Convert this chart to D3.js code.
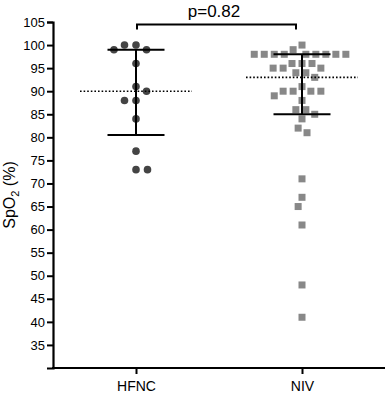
<!DOCTYPE html>
<html>
<head>
<meta charset="utf-8">
<script src="https://cdn.jsdelivr.net/npm/d3@7"></script>
<style>
  body { margin: 0; background: #fff; }
  text { font-family: "Liberation Sans", Arial, sans-serif; }
</style>
</head>
<body>
<div id="root"></div>
<script>
// groups on the x axis
var groups = ["HFNC", "NIV"];

// SpO2 readings per patient
var hfncValues = [100, 100, 99, 99, 96, 91, 90, 88, 88, 84, 77, 73, 73];
var nivValues = [100, 99, 98, 98, 98, 98, 98, 98, 98, 98, 98, 96, 96, 96, 95, 95, 95,
    94, 94, 93, 91, 90, 90, 90, 90, 89, 88, 86, 86, 85, 84, 82, 81, 71, 67, 65, 61, 48, 41];

// centre line and whiskers for each group
var centreValues = [90, 93];
var lowValues = [80.5, 85];
var highValues = [99, 98];

var yTicks = [35, 40, 45, 50, 55, 60, 65, 70, 75, 80, 85, 90, 95, 100, 105];
var pLabel = "p=0.82";

var svgWidth = 387,
    svgHeight = 395,
    margin = { top: 22, right: 2, bottom: 27, left: 53 };

var svg = d3.select("#root")
    .append("svg")
    .attr("width", svgWidth)
    .attr("height", svgHeight);

var x = d3.scalePoint()
    .domain(groups)
    .range([margin.left, svgWidth - margin.right])
    .padding(0.5);

var y = d3.scaleLinear()
    .domain([30, 105])
    .range([svgHeight - margin.bottom, margin.top]);

// simple beeswarm: push each point sideways until it does not touch earlier ones
function dodge(values, gap) {
    var placed = [];
    var left = 0, right = 0;
    var sorted = values.slice().sort(function (a, b) { return b - a; });
    return sorted.map(function (v) {
        var py = y(v);
        var blocked = [];
        placed.forEach(function (p) {
            var dy = Math.abs(p.y - py);
            if (dy < gap) {
                var h = Math.sqrt(gap * gap - dy * dy);
                blocked.push([p.dx - h, p.dx + h]);
            }
        });
        var cands = [0];
        blocked.forEach(function (b) { cands.push(b[0], b[1]); });
        var side = left <= right ? -1 : 1;
        cands.sort(function (a, b) {
            var d = Math.round(Math.abs(a) * 2) - Math.round(Math.abs(b) * 2);
            return d || (a * side > b * side ? -1 : 1);
        });
        var dx = cands.find(function (c) {
            return blocked.every(function (b) { return c <= b[0] + 1e-6 || c >= b[1] - 1e-6; });
        });
        if (dx < -0.5) left++;
        if (dx > 0.5) right++;
        var pt = { value: v, dx: dx, y: py };
        placed.push(pt);
        return pt;
    });
}

var hfncPts = dodge(hfncValues, 11.5);
var nivPts = dodge(nivValues, 10);

// points
svg.append("g")
    .selectAll("circle")
    .data(hfncPts)
    .enter()
    .append("circle")
    .attr("cx", function (d) { return x("HFNC") + d.dx; })
    .attr("cy", function (d) { return d.y; })
    .attr("r", 3.8)
    .attr("fill", "#444");

var sq = 7;
svg.append("g")
    .selectAll("rect")
    .data(nivPts)
    .enter()
    .append("rect")
    .attr("x", function (d) { return x("NIV") + d.dx - sq / 2; })
    .attr("y", function (d) { return d.y - sq / 2; })
    .attr("width", sq)
    .attr("height", sq)
    .attr("fill", "#888");

// centre lines (dotted) and whiskers
var stats = groups.map(function (g, i) {
    return { key: g, mid: centreValues[i], lo: lowValues[i], hi: highValues[i] };
});

var statG = svg.append("g")
    .selectAll("g")
    .data(stats)
    .enter()
    .append("g");

statG.append("line")
    .attr("x1", function (d) { return x(d.key) - 56; })
    .attr("x2", function (d) { return x(d.key) + 56; })
    .attr("y1", function (d) { return y(d.mid); })
    .attr("y2", function (d) { return y(d.mid); })
    .attr("stroke", "#000")
    .attr("stroke-width", 1.6)
    .attr("stroke-dasharray", "1.6,2");

statG.append("line")
    .attr("x1", function (d) { return x(d.key); })
    .attr("x2", function (d) { return x(d.key); })
    .attr("y1", function (d) { return y(d.lo); })
    .attr("y2", function (d) { return y(d.hi); })
    .attr("stroke", "#000")
    .attr("stroke-width", 2);

["lo", "hi"].forEach(function (k) {
    statG.append("line")
        .attr("x1", function (d) { return x(d.key) - 28.5; })
        .attr("x2", function (d) { return x(d.key) + 28.5; })
        .attr("y1", function (d) { return y(d[k]); })
        .attr("y2", function (d) { return y(d[k]); })
        .attr("stroke", "#000")
        .attr("stroke-width", 2);
});

// axes
var yAxis = svg.append("g")
    .attr("transform", "translate(" + margin.left + ",0)")
    .call(d3.axisLeft(y).tickValues(yTicks).tickSizeOuter(0).tickSize(6).tickPadding(2));

var xAxis = svg.append("g")
    .attr("transform", "translate(0," + (svgHeight - margin.bottom) + ")")
    .call(d3.axisBottom(x).tickSizeOuter(0).tickSize(6).tickPadding(7));

xAxis.select(".domain").attr("d", "M" + (margin.left - 1) + ",0H" + (svgWidth - margin.right));

[yAxis, xAxis].forEach(function (a) {
    a.select(".domain").attr("stroke", "#000").attr("stroke-width", 2.2);
    a.selectAll(".tick line").attr("stroke", "#000").attr("stroke-width", 2);
    a.selectAll(".tick text")
        .attr("fill", "#000")
        .attr("font-size", 13)
        .attr("font-family", "Liberation Sans, Arial, sans-serif");
});
xAxis.selectAll(".tick text").attr("font-size", 14);

// y label with subscript
var yLabel = svg.append("text")
    .attr("transform", "translate(15,195) rotate(-90)")
    .attr("text-anchor", "middle")
    .attr("font-size", 16)
    .attr("fill", "#000");
yLabel.append("tspan").text("SpO");
yLabel.append("tspan").attr("font-size", 11).attr("dy", 4).text("2");
yLabel.append("tspan").attr("dy", -4).text(" (%)");

// significance bracket
var by = 24.5;
svg.append("path")
    .attr("d", "M" + (x("HFNC") + 1) + "," + (by + 5) + "V" + by + "H" + (x("NIV") - 6) + "V" + (by + 5))
    .attr("fill", "none")
    .attr("stroke", "#000")
    .attr("stroke-width", 2);

svg.append("text")
    .attr("x", (x("HFNC") + x("NIV")) / 2 - 5)
    .attr("y", 17)
    .attr("text-anchor", "middle")
    .attr("font-size", 17)
    .attr("fill", "#000")
    .text(pLabel);
</script>
</body>
</html>
